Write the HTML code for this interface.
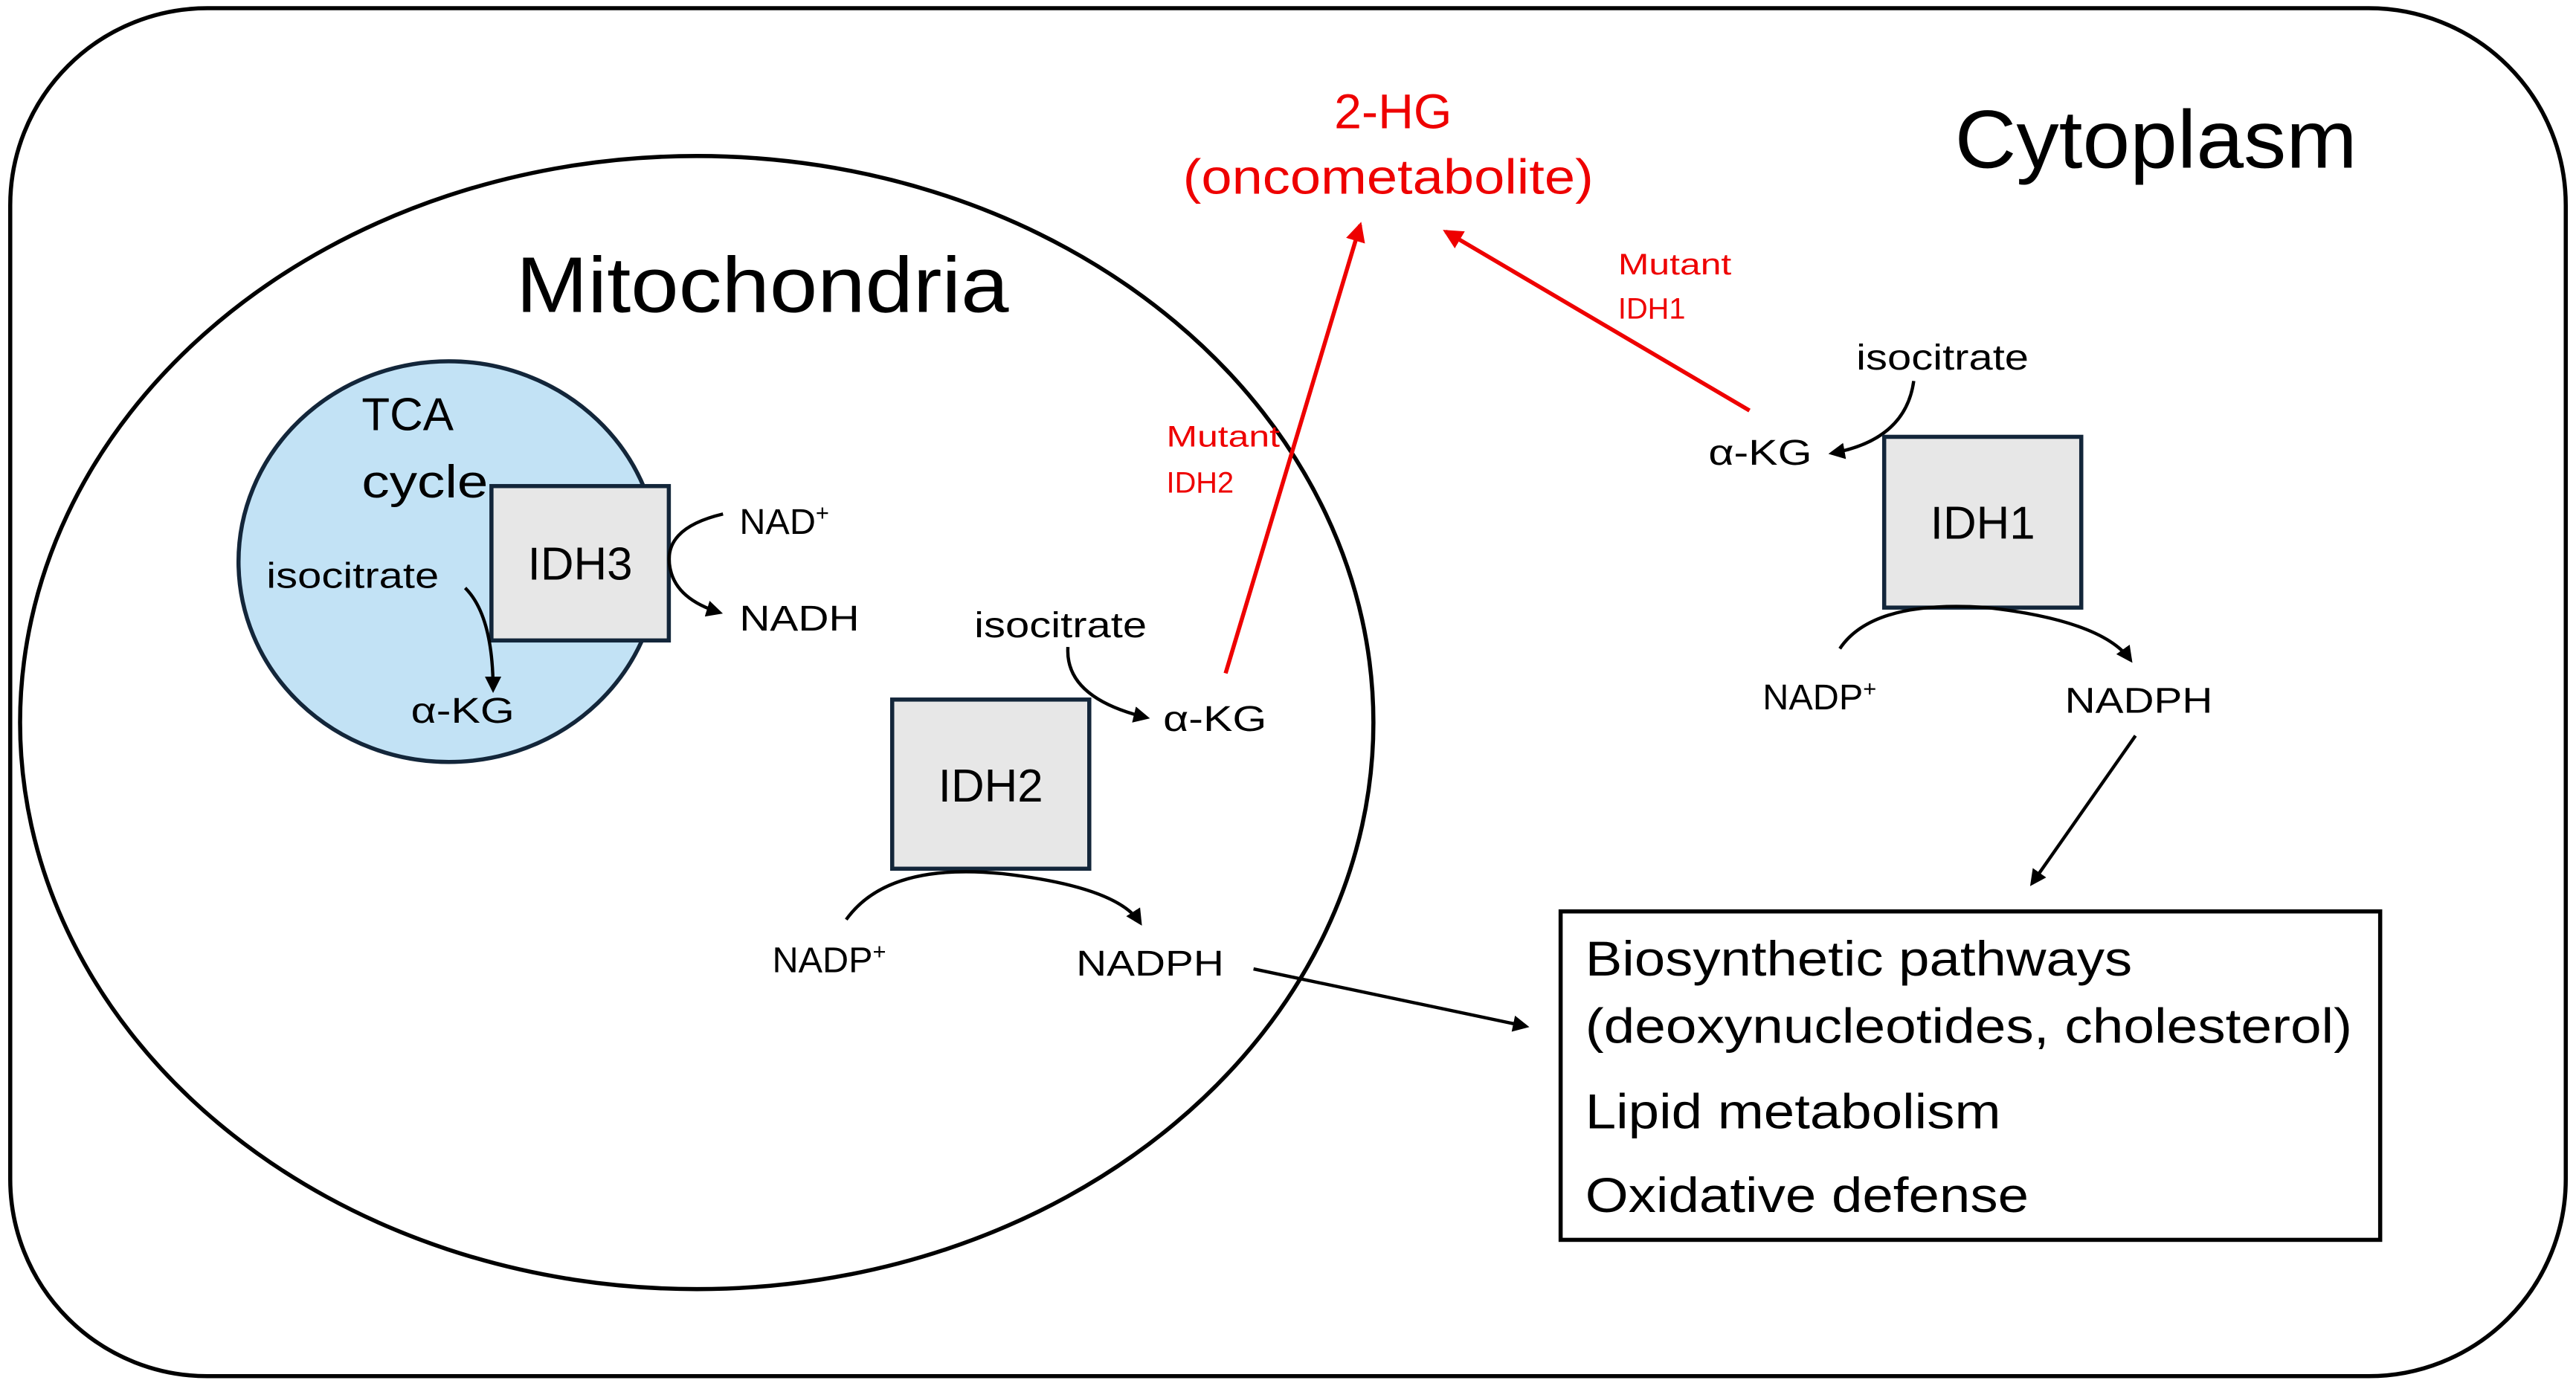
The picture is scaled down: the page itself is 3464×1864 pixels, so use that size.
<!DOCTYPE html>
<html><head><meta charset="utf-8"><style>html,body{margin:0;padding:0;background:#fff}svg{display:block}</style></head>
<body>
<svg width="3464" height="1864" viewBox="0 0 1568 844" xmlns="http://www.w3.org/2000/svg" font-family="Liberation Sans, Arial, sans-serif">
<defs>
<marker id="ab" markerWidth="10" markerHeight="10" refX="8" refY="5" orient="auto" markerUnits="userSpaceOnUse"><path d="M0,0 L10,5 L0,10 z" fill="#000"/></marker>
<marker id="ar" markerWidth="12" markerHeight="12" refX="10" refY="6" orient="auto" markerUnits="userSpaceOnUse"><path d="M0,0 L12,6 L0,12 z" fill="#e00"/></marker>
</defs>
<rect x="6" y="5" width="1556" height="833" rx="120" ry="120" fill="#fff" stroke="#000" stroke-width="2.5"/>
<text x="1190" y="102" font-size="50" textLength="245" lengthAdjust="spacingAndGlyphs">Cytoplasm</text>
<ellipse cx="424" cy="440" rx="412" ry="345" fill="#fff" stroke="#000" stroke-width="2.5"/>
<text x="314" y="190" font-size="48" textLength="300" lengthAdjust="spacingAndGlyphs">Mitochondria</text>
<ellipse cx="273" cy="342" rx="128" ry="122" fill="#c2e2f5" stroke="#13263a" stroke-width="2.5"/>
<text x="220" y="262" font-size="28">TCA</text>
<text x="220" y="303" font-size="28" textLength="77" lengthAdjust="spacingAndGlyphs">cycle</text>
<rect x="299" y="296" width="108" height="94" fill="#e7e7e7" stroke="#13263a" stroke-width="2.5"/>
<text x="353" y="353" font-size="28" text-anchor="middle">IDH3</text>
<text x="162" y="358" font-size="22" textLength="105" lengthAdjust="spacingAndGlyphs">isocitrate</text>
<path d="M283,358 Q300,375 300,420" fill="none" stroke="#000" stroke-width="2" marker-end="url(#ab)"/>
<text x="250" y="440" font-size="22" textLength="63" lengthAdjust="spacingAndGlyphs">α-KG</text>
<text x="450" y="325" font-size="22">NAD<tspan font-size="14" dy="-8">+</tspan></text>
<text x="450" y="384" font-size="22" textLength="73" lengthAdjust="spacingAndGlyphs">NADH</text>
<path d="M440,313 Q402,322 408,347 Q412,365 438,373" fill="none" stroke="#000" stroke-width="2" marker-end="url(#ab)"/>
<rect x="543" y="426" width="120" height="103" fill="#e7e7e7" stroke="#13263a" stroke-width="2.5"/>
<text x="603" y="488" font-size="28" text-anchor="middle">IDH2</text>
<text x="593" y="388" font-size="22" textLength="105" lengthAdjust="spacingAndGlyphs">isocitrate</text>
<path d="M650,394 Q648,425 698,437" fill="none" stroke="#000" stroke-width="2" marker-end="url(#ab)"/>
<text x="708" y="445" font-size="22" textLength="63" lengthAdjust="spacingAndGlyphs">α-KG</text>
<text x="470" y="592" font-size="22">NADP<tspan font-size="14" dy="-8">+</tspan></text>
<text x="655" y="594" font-size="22" textLength="90" lengthAdjust="spacingAndGlyphs">NADPH</text>
<path d="M515,560 Q540,525 610,532 Q680,540 694,562" fill="none" stroke="#000" stroke-width="2" marker-end="url(#ab)"/>
<line x1="746" y1="410" x2="828" y2="137" stroke="#e00" stroke-width="2.5" marker-end="url(#ar)"/>
<text x="710" y="272" font-size="18" fill="#e00" textLength="69" lengthAdjust="spacingAndGlyphs">Mutant</text>
<text x="710" y="300" font-size="18" fill="#e00">IDH2</text>
<text x="848" y="78" font-size="30" fill="#e00" text-anchor="middle">2-HG</text>
<text x="720" y="118" font-size="30" fill="#e00" textLength="250" lengthAdjust="spacingAndGlyphs">(oncometabolite)</text>
<line x1="1065" y1="250" x2="880" y2="141" stroke="#e00" stroke-width="2.5" marker-end="url(#ar)"/>
<text x="985" y="167" font-size="18" fill="#e00" textLength="69" lengthAdjust="spacingAndGlyphs">Mutant</text>
<text x="985" y="194" font-size="18" fill="#e00">IDH1</text>
<text x="1130" y="225" font-size="22" textLength="105" lengthAdjust="spacingAndGlyphs">isocitrate</text>
<path d="M1165,232 Q1160,268 1115,276" fill="none" stroke="#000" stroke-width="2" marker-end="url(#ab)"/>
<text x="1040" y="283" font-size="22" textLength="63" lengthAdjust="spacingAndGlyphs">α-KG</text>
<rect x="1147" y="266" width="120" height="104" fill="#e7e7e7" stroke="#13263a" stroke-width="2.5"/>
<text x="1207" y="328" font-size="28" text-anchor="middle">IDH1</text>
<path d="M1120,395 Q1140,365 1210,370 Q1280,378 1297,402" fill="none" stroke="#000" stroke-width="2" marker-end="url(#ab)"/>
<text x="1073" y="432" font-size="22">NADP<tspan font-size="14" dy="-8">+</tspan></text>
<text x="1257" y="434" font-size="22" textLength="90" lengthAdjust="spacingAndGlyphs">NADPH</text>
<line x1="1300" y1="448" x2="1237" y2="538" stroke="#000" stroke-width="2" marker-end="url(#ab)"/>
<rect x="950" y="555" width="499" height="200" fill="#fff" stroke="#000" stroke-width="2.5"/>
<text x="965" y="594" font-size="30" textLength="333" lengthAdjust="spacingAndGlyphs">Biosynthetic pathways</text>
<text x="965" y="635" font-size="30" textLength="467" lengthAdjust="spacingAndGlyphs">(deoxynucleotides, cholesterol)</text>
<text x="965" y="687" font-size="30" textLength="253" lengthAdjust="spacingAndGlyphs">Lipid metabolism</text>
<text x="965" y="738" font-size="30" textLength="270" lengthAdjust="spacingAndGlyphs">Oxidative defense</text>
<line x1="763" y1="590" x2="929" y2="625" stroke="#000" stroke-width="2" marker-end="url(#ab)"/>
</svg>
</body></html>
